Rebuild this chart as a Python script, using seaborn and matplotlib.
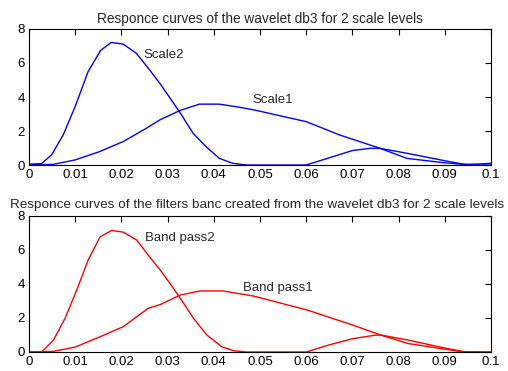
import numpy as np
import pandas as pd
import matplotlib
matplotlib.use("Agg")
import matplotlib.pyplot as plt
import seaborn as sns

# ---- data ----
scale2_x = [0.0, 0.0027, 0.0049, 0.0074, 0.0100, 0.0128, 0.0155, 0.0178, 0.0204, 0.0232,
            0.0258, 0.0283, 0.0308, 0.0330, 0.0355, 0.0383, 0.0412, 0.0441, 0.0470, 0.0600,
            0.0646, 0.0700, 0.0738, 0.0760, 0.0818, 0.0896, 0.0939, 0.0975, 0.1000]
scale2_y = [0.05, 0.08, 0.60, 1.77, 3.44, 5.50, 6.74, 7.21, 7.11, 6.58,
            5.70, 4.81, 3.83, 2.95, 1.87, 1.08, 0.39, 0.10, 0.0, 0.0,
            0.39, 0.85, 0.98, 0.98, 0.39, 0.14, 0.04, 0.06, 0.10]
scale1_x = [0.0, 0.0053, 0.0100, 0.0153, 0.0204, 0.0254, 0.0283, 0.0326, 0.0369, 0.0412,
            0.0455, 0.0487, 0.0600, 0.0673, 0.0760, 0.0818, 0.0900, 0.0940, 0.0950, 0.1000]
scale1_y = [0.0, 0.04, 0.30, 0.79, 1.38, 2.16, 2.65, 3.20, 3.58, 3.58,
            3.40, 3.24, 2.55, 1.76, 0.98, 0.69, 0.25, 0.05, 0.0, 0.0]

bp2_x = [0.0, 0.0027, 0.0053, 0.0078, 0.0102, 0.0128, 0.0154, 0.0179, 0.0204, 0.0233,
         0.0258, 0.0284, 0.0305, 0.0330, 0.0356, 0.0385, 0.0417, 0.0442, 0.0470, 0.0600,
         0.0646, 0.0700, 0.0747, 0.0761, 0.0820, 0.0902, 0.0940, 0.1000]
bp2_y = [0.0, 0.0, 0.70, 1.98, 3.55, 5.41, 6.78, 7.15, 7.05, 6.59,
         5.70, 4.82, 4.04, 3.06, 1.98, 1.00, 0.31, 0.08, 0.0, 0.0,
         0.39, 0.78, 0.98, 1.00, 0.50, 0.16, 0.0, 0.0]
bp1_x = [0.0, 0.0053, 0.0100, 0.0154, 0.0204, 0.0258, 0.0285, 0.0327, 0.0370, 0.0420,
         0.0486, 0.0602, 0.0700, 0.0761, 0.0819, 0.0902, 0.0942, 0.1000]
bp1_y = [0.0, 0.04, 0.29, 0.90, 1.49, 2.57, 2.80, 3.35, 3.59, 3.59,
         3.29, 2.47, 1.59, 1.00, 0.71, 0.22, 0.02, 0.0]

x_ticks = [0, 0.01, 0.02, 0.03, 0.04, 0.05, 0.06, 0.07, 0.08, 0.09, 0.1]
x_tick_labels = ["0", "0.01", "0.02", "0.03", "0.04", "0.05", "0.06", "0.07", "0.08", "0.09", "0.1"]
y_ticks = [0, 2, 4, 6, 8]

title_top = "Responce curves of the wavelet db3 for 2 scale levels"
title_bottom = "Responce curves of the filters banc created from the wavelet db3 for 2 scale levels"

sns.set_style("white")
plt.rcParams['font.family'] = ['Liberation Sans', 'DejaVu Sans']

fig = plt.figure(figsize=(5.08, 3.71), dpi=100)
ax1 = fig.add_axes([29/508, 1-165/371, 462/508, 136/371])
ax2 = fig.add_axes([29/508, 1-352/371, 462/508, 136/371])

def draw(ax, xs1, ys1, xs2, ys2, color):
    df1 = pd.DataFrame({"f": xs1, "r": ys1})
    df2 = pd.DataFrame({"f": xs2, "r": ys2})
    sns.lineplot(data=df1, x="f", y="r", ax=ax, color=color, linewidth=1.0,
                 sort=False, estimator=None)
    sns.lineplot(data=df2, x="f", y="r", ax=ax, color=color, linewidth=1.0,
                 sort=False, estimator=None)
    ax.set_xlim(0, 0.1)
    ax.set_ylim(0, 8)
    ax.set_xticks(x_ticks)
    ax.set_xticklabels(x_tick_labels)
    ax.set_yticks(y_ticks)
    ax.set_xlabel("")
    ax.set_ylabel("")
    ax.tick_params(direction="in", length=4, width=0.8, top=True, right=True,
                   labelsize=9.5, colors="black", pad=3)
    for s in ax.spines.values():
        s.set_visible(True)
        s.set_color("black")
        s.set_linewidth(0.8)

draw(ax1, scale2_x, scale2_y, scale1_x, scale1_y, "#0000ff")
draw(ax2, bp2_x, bp2_y, bp1_x, bp1_y, "#ff0000")

ax1.set_title(title_top, fontsize=9.8, pad=4.5)
ax2.set_title(title_bottom, fontsize=9.7, pad=6, x=0.494)

ax1.text(0.0247, 6.47, "Scale2", fontsize=9.5, va="center", ha="left")
ax1.text(0.0483, 3.82, "Scale1", fontsize=9.5, va="center", ha="left")
ax2.text(0.0250, 6.7, "Band pass2", fontsize=9.5, va="center", ha="left")
ax2.text(0.0463, 3.76, "Band pass1", fontsize=9.5, va="center", ha="left")

fig.savefig("out.png", dpi=100)
